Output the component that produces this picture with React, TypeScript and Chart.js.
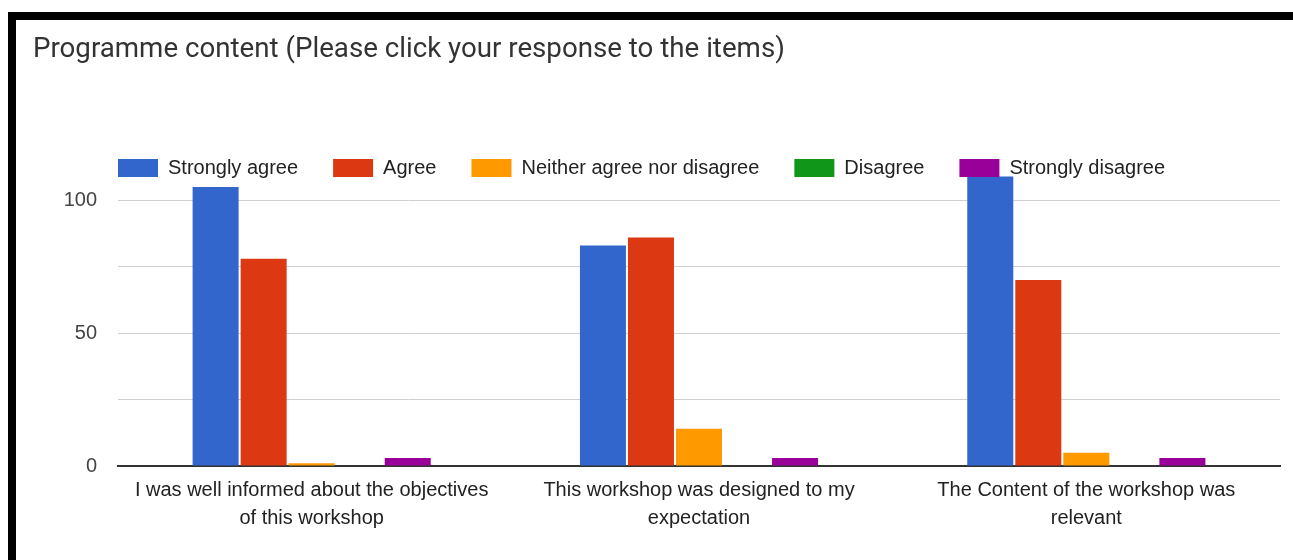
import React, { useEffect, useRef } from "react";
import { Chart, registerables } from "chart.js";

Chart.register(...registerables);

const titleText = "Programme content (Please click your response to the items)";
const categories: string[][] = [
  ["I was well informed about the objectives", "of this workshop"],
  ["This workshop was designed to my", "expectation"],
  ["The Content of the workshop was", "relevant"],
];
const seriesNames = [
  "Strongly agree",
  "Agree",
  "Neither agree nor disagree",
  "Disagree",
  "Strongly disagree",
];
const stronglyAgree = [105, 83, 109];
const agree = [78, 86, 70];
const neitherAgree = [1, 14, 5];
const disagree = [0, 0, 0];
const stronglyDisagree = [3, 3, 3];
const seriesColors = ["#3366cc", "#dc3912", "#ff9900", "#109618", "#990099"];
const yTickLabels = [0, 50, 100];
const yMax = 125;
const yStep = 25;

const FONT = '"Liberation Sans", Arial, sans-serif';

const overlayPlugin = {
  id: "overlay",
  afterDraw(chart: any) {
    const ctx = chart.ctx as CanvasRenderingContext2D;
    ctx.save();
    ctx.font = "27.7px Roboto";
    ctx.fillStyle = "#333333";
    ctx.textAlign = "left";
    ctx.textBaseline = "alphabetic";
    ctx.fillText(titleText, 33, 57);

    ctx.font = `20px ${FONT}`;
    let x = chart.chartArea.left;
    const boxTop = 159;
    chart.data.datasets.forEach((ds: any) => {
      ctx.fillStyle = ds.backgroundColor;
      ctx.fillRect(x, boxTop, 40, 18);
      x += 40 + 10;
      ctx.fillStyle = "#222222";
      ctx.textBaseline = "middle";
      ctx.fillText(ds.label, x, boxTop + 9);
      x += ctx.measureText(ds.label).width + 35;
    });
    ctx.restore();
  },
};

export default function App() {
  const ref = useRef<HTMLCanvasElement | null>(null);

  useEffect(() => {
    if (!ref.current) return;
    const values = [stronglyAgree, agree, neitherAgree, disagree, stronglyDisagree];
    const chart = new Chart(ref.current, {
      type: "bar",
      data: {
        labels: categories,
        datasets: seriesNames.map((name, i) => ({
          label: name,
          data: values[i],
          backgroundColor: seriesColors[i],
          categoryPercentage: 0.62,
          barPercentage: 0.958,
        })),
      },
      options: {
        responsive: false,
        animation: false,
        devicePixelRatio: 1,
        layout: { padding: { left: 40, right: 13, top: 134, bottom: 0 } },
        plugins: {
          legend: { display: false },
          title: { display: false },
          tooltip: { enabled: false },
        },
        scales: {
          x: {
            grid: { display: false },
            border: { display: true, color: "#333333", width: 2 },
            ticks: {
              color: "#222222",
              font: { family: FONT, size: 20, lineHeight: 1.4 },
              padding: 2,
              maxRotation: 0,
              autoSkip: false,
            },
            afterFit: (scale: any) => {
              scale.height = 94;
            },
          },
          y: {
            min: 0,
            max: yMax,
            border: { display: false },
            grid: { color: "#d0d0d0", lineWidth: 1, drawTicks: false },
            ticks: {
              stepSize: yStep,
              padding: 21,
              color: "#444444",
              font: { family: FONT, size: 20 },
              autoSkip: false,
              callback: (v: any) =>
                yTickLabels.includes(v) ? String(v) : v > 100 ? null : "",
            },
            afterFit: (scale: any) => {
              scale.width = 78;
            },
          },
        },
      },
      plugins: [overlayPlugin],
    });
    return () => chart.destroy();
  }, []);

  return (
    <div style={{ position: "absolute", left: 0, top: 0, width: 1293, height: 560, background: "#fff" }}>
      <canvas
        ref={ref}
        width={1293}
        height={560}
        style={{ position: "absolute", left: 0, top: 0 }}
      />
      <div style={{ position: "absolute", left: 8, top: 12, width: 1285, height: 8, background: "#000" }} />
      <div style={{ position: "absolute", left: 8, top: 12, width: 8, height: 548, background: "#000" }} />
    </div>
  );
}
